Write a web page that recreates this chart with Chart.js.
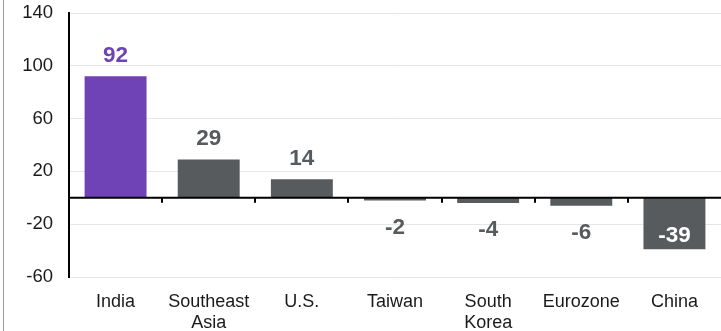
<!DOCTYPE html>
<html>
<head>
<meta charset="utf-8">
<script src="https://cdn.jsdelivr.net/npm/chart.js@4/dist/chart.umd.min.js"></script>
<style>
  html, body { margin: 0; padding: 0; background: #fff; }
  #wrap { position: relative; width: 721px; height: 331px; }
</style>
</head>
<body>
<div id="wrap"><canvas id="c" width="721" height="331"></canvas></div>
<script>
// Change by economy
const categories = ['India', ['Southeast', 'Asia'], 'U.S.', 'Taiwan', ['South', 'Korea'], 'Eurozone', 'China'];
const values = [92, 29, 14, -2, -4, -6, -39];
const yTicks = [-60, -20, 20, 60, 100, 140];
const highlighted = 'India';

const PURPLE = '#6F43B6';
const GREY = '#575B5E';
const FONT = "'Liberation Sans', Arial, Helvetica, sans-serif";

const isHighlighted = i => categories[i] === highlighted;

// Zero line, category tick marks on it, frame line at the left edge
const zeroLinePlugin = {
  id: 'zeroLine',
  afterDatasetsDraw(chart) {
    const { ctx, chartArea, scales: { x, y } } = chart;
    const y0 = y.getPixelForValue(0);
    ctx.save();
    ctx.strokeStyle = '#000';
    ctx.lineWidth = 2;
    ctx.beginPath();
    ctx.moveTo(chartArea.left, y0);
    ctx.lineTo(chartArea.right, y0);
    ctx.stroke();
    const half = (x.getPixelForValue(1) - x.getPixelForValue(0)) / 2;
    ctx.beginPath();
    for (let i = 0; i < categories.length - 1; i++) {
      const px = Math.round(x.getPixelForValue(i) + half);
      ctx.moveTo(px, y0);
      ctx.lineTo(px, y0 + 5);
    }
    ctx.stroke();
    ctx.restore();
  },
  beforeDraw(chart) {
    const { ctx, height } = chart;
    ctx.save();
    ctx.strokeStyle = '#9a9a9a';
    ctx.lineWidth = 1;
    ctx.beginPath();
    ctx.moveTo(3.5, 0);
    ctx.lineTo(3.5, height);
    ctx.stroke();
    ctx.restore();
  }
};

// Value labels over / under each bar
const valueLabelPlugin = {
  id: 'valueLabels',
  afterDatasetsDraw(chart) {
    const { ctx, scales: { y } } = chart;
    const meta = chart.getDatasetMeta(0);
    ctx.save();
    ctx.font = `bold 22.5px ${FONT}`;
    ctx.textAlign = 'center';
    ctx.textBaseline = 'middle';
    meta.data.forEach((bar, i) => {
      const v = values[i];
      const end = y.getPixelForValue(v);
      let ty, color;
      if (v >= 0) {
        ty = end - 21;
        color = isHighlighted(i) ? PURPLE : GREY;
      } else if (v < -20) {
        ty = end - 13;
        color = '#ffffff';
      } else {
        ty = end + 27;
        color = GREY;
      }
      ctx.fillStyle = color;
      ctx.fillText(String(v), bar.x, ty);
    });
    ctx.restore();
  }
};

new Chart(document.getElementById('c'), {
  type: 'bar',
  data: {
    labels: categories,
    datasets: [{
      data: values,
      backgroundColor: ctx => isHighlighted(ctx.dataIndex) ? PURPLE : GREY,
      borderWidth: 0,
      categoryPercentage: 1,
      barPercentage: 0.665
    }]
  },
  options: {
    responsive: false,
    animation: false,
    devicePixelRatio: 1,
    layout: { padding: 0 },
    plugins: { legend: { display: false }, tooltip: { enabled: false } },
    scales: {
      x: {
        grid: { display: false, drawTicks: false },
        border: { display: false },
        ticks: {
          color: '#1a1a1a',
          font: { family: FONT, size: 18 },
          padding: 14,
          maxRotation: 0,
          autoSkip: false
        },
        afterFit(scale) { scale.height = 54; }
      },
      y: {
        min: -60,
        max: 140,
        afterBuildTicks(scale) { scale.ticks = yTicks.map(v => ({ value: v })); },
        grid: { color: '#e6e6e6', lineWidth: 1, drawTicks: false },
        border: { display: true, color: '#000', width: 2 },
        ticks: {
          color: '#1a1a1a',
          font: { family: FONT, size: 18.5 },
          padding: 16
        },
        afterFit(scale) {
          scale.width = 69;
          scale.paddingTop = 13;
          scale.paddingBottom = 0;
        }
      }
    }
  },
  plugins: [zeroLinePlugin, valueLabelPlugin]
});
</script>
</body>
</html>
